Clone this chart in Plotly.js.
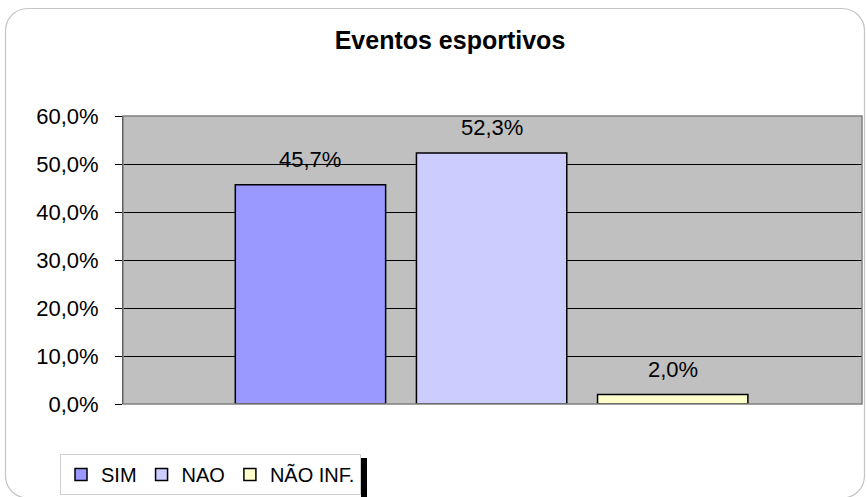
<!DOCTYPE html>
<html>
<head>
<meta charset="utf-8">
<script src="https://cdn.plot.ly/plotly-3.0.1.min.js"></script>
<style>html,body{margin:0;padding:0;background:#fff;}#chart{width:867px;height:497px;}</style>
</head>
<body>
<div id="chart"></div>
<script>
// ---- data ----
const chartTitle = 'Eventos esportivos';
const seriesNames = ['SIM', 'NAO', 'NÃO INF.'];
const seriesValues = [0.457, 0.523, 0.020];
const seriesColors = ['#9999ff', '#ccccff', '#ffffcc'];
const yTickValues = [0, 0.1, 0.2, 0.3, 0.4, 0.5, 0.6];

// ---- layout geometry ----
const W = 867, H = 497;
const M = {l: 123, r: 5, t: 116, b: 93, autoexpand: false};
const PW = W - M.l - M.r, PH = H - M.t - M.b;
const px = x => (x - M.l) / PW;          // pixel -> paper x
const py = y => (H - M.b - y) / PH;      // pixel -> paper y
const FONT = '"Liberation Sans", Arial, sans-serif';

function fmtPct(v) { return (v * 100).toFixed(1).replace('.', ',') + '%'; }

const traces = seriesNames.map((n, i) => ({
  type: 'bar',
  name: n,
  x: [n],
  y: [seriesValues[i]],
  marker: {color: seriesColors[i], line: {color: '#000000', width: 1.5}},
  hoverinfo: 'skip'
}));

const annotations = seriesNames.map((n, i) => ({
  x: n, y: seriesValues[i], xref: 'x', yref: 'y',
  text: fmtPct(seriesValues[i]),
  showarrow: false, yanchor: 'middle', xanchor: 'center', yshift: 25,
  font: {family: FONT, size: 22, color: '#000000'}
}));

// rounded outer frame
function roundRect(x0, y0, x1, y1, r) {
  const X = v => px(v), Y = v => py(v);
  const k = 0.45 * r;
  return `M${X(x0 + r)},${Y(y0)} L${X(x1 - r)},${Y(y0)} ` +
    `C${X(x1 - k)},${Y(y0)} ${X(x1)},${Y(y0 + k)} ${X(x1)},${Y(y0 + r)} ` +
    `L${X(x1)},${Y(y1 - r)} ` +
    `C${X(x1)},${Y(y1 - k)} ${X(x1 - k)},${Y(y1)} ${X(x1 - r)},${Y(y1)} ` +
    `L${X(x0 + r)},${Y(y1)} ` +
    `C${X(x0 + k)},${Y(y1)} ${X(x0)},${Y(y1 - k)} ${X(x0)},${Y(y1 - r)} ` +
    `L${X(x0)},${Y(y0 + r)} ` +
    `C${X(x0)},${Y(y0 + k)} ${X(x0 + k)},${Y(y0)} ${X(x0 + r)},${Y(y0)} Z`;
}

const shapes = [
  {type: 'path', xref: 'paper', yref: 'paper', path: roundRect(5.5, 8.5, 864.5, 498, 22),
   line: {color: '#c4c4c4', width: 1.2}, fillcolor: 'rgba(0,0,0,0)', layer: 'below'},
  {type: 'rect', xref: 'paper', yref: 'paper', x0: 0, x1: 1, y0: 0, y1: 1,
   line: {color: '#808080', width: 1.5}, fillcolor: 'rgba(0,0,0,0)', layer: 'above'},
  {type: 'rect', xref: 'paper', yref: 'paper', x0: px(361), x1: px(367), y0: py(458), y1: py(500),
   line: {width: 0}, fillcolor: '#000000', layer: 'above'}
];

const layout = {
  width: W, height: H,
  margin: M,
  paper_bgcolor: 'rgba(0,0,0,0)',
  plot_bgcolor: '#c0c0c0',
  separators: ',.',
  font: {family: FONT, size: 22, color: '#000000'},
  title: {
    text: '<b>' + chartTitle + '</b>',
    font: {family: FONT, size: 25, color: '#000000'},
    x: 450 / W, xanchor: 'center', xref: 'container',
    y: 1 - 40 / H, yanchor: 'middle', yref: 'container'
  },
  barmode: 'overlay',
  bargap: 0.17,
  xaxis: {
    type: 'category', categoryorder: 'array', categoryarray: seriesNames,
    range: [-1.035, 3.045], showticklabels: false, ticks: '', showgrid: false,
    zeroline: false, showline: false, fixedrange: true
  },
  yaxis: {
    range: [0, 0.6], tickvals: yTickValues, tickformat: '.1%',
    showgrid: true, gridcolor: '#000000', gridwidth: 1,
    zeroline: false, showline: true, linecolor: '#000000', linewidth: 1,
    ticks: 'outside', ticklen: 7, tickcolor: '#000000', tickwidth: 1,
    ticklabelstandoff: 12,
    tickfont: {family: FONT, size: 22, color: '#000000'}, fixedrange: true
  },
  showlegend: true,
  legend: {
    orientation: 'h', x: px(60), xanchor: 'left', y: py(454), yanchor: 'top',
    bgcolor: '#ffffff', bordercolor: '#d0d0d0', borderwidth: 1,
    font: {family: FONT, size: 20, color: '#000000'}, traceorder: 'normal'
  },
  annotations: annotations,
  shapes: shapes
};

Plotly.newPlot('chart', traces, layout, {staticPlot: true, displayModeBar: false});
</script>
</body>
</html>
